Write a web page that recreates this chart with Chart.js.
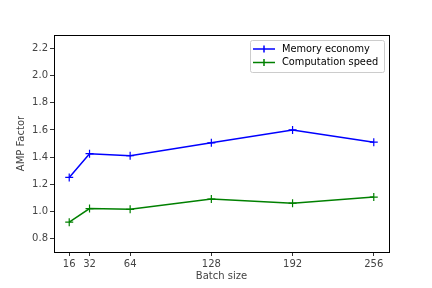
<!DOCTYPE html>
<html>
<head>
<meta charset="utf-8">
<script src="https://cdn.jsdelivr.net/npm/chart.js@4"></script>
<style>
  html, body { margin: 0; padding: 0; background: #fff; }
  #wrap { width: 432px; height: 288px; }
</style>
</head>
<body>
<div id="wrap"><canvas id="myChart" width="432" height="288"></canvas></div>
<script>
// datos
const batchSizes = [16, 32, 64, 128, 192, 256];
const memoryEconomy = [1.25, 1.425, 1.41, 1.505, 1.60, 1.51];
const computationSpeed = [0.92, 1.02, 1.015, 1.09, 1.06, 1.105];
const yTicks = [0.8, 1.0, 1.2, 1.4, 1.6, 1.8, 2.0, 2.2];

const toPoints = (vals) => batchSizes.map((x, i) => ({ x: x, y: vals[i] }));

// caixa + legenda
const frame = {
  id: 'frame',
  afterDraw(chart) {
    const { ctx, chartArea: a } = chart;
    ctx.save();
    ctx.strokeStyle = '#000';
    ctx.lineWidth = 1;
    ctx.strokeRect(a.left + 0.5, a.top + 0.5, a.right - a.left, a.bottom - a.top);

    // legenda
    const x0 = 250, y0 = 40, w = 134, h = 32;
    ctx.fillStyle = 'rgba(255,255,255,0.8)';
    ctx.strokeStyle = '#cccccc';
    ctx.beginPath();
    ctx.roundRect(x0 + 0.5, y0 + 0.5, w, h, 2);
    ctx.fill();
    ctx.stroke();
    ctx.font = '9.8px "DejaVu Sans"';
    ctx.textBaseline = 'middle';
    chart.data.datasets.forEach((ds, i) => {
      const y = y0 + 9 + i * 13.5;
      ctx.strokeStyle = ds.borderColor;
      ctx.lineWidth = 1.5;
      ctx.beginPath();
      ctx.moveTo(x0 + 3, y);
      ctx.lineTo(x0 + 25, y);
      ctx.moveTo(x0 + 14, y - 3.5);
      ctx.lineTo(x0 + 14, y + 3.5);
      ctx.stroke();
      ctx.fillStyle = '#000';
      ctx.fillText(ds.label, x0 + 32, y);
    });
    ctx.restore();
  }
};

const ctx = document.getElementById('myChart');

new Chart(ctx, {
  type: 'scatter',
  data: {
    datasets: [{
      label: 'Memory economy',
      data: toPoints(memoryEconomy),
      borderColor: '#0000ff',
      backgroundColor: '#0000ff',
      showLine: true,
      borderWidth: 1.5,
      pointStyle: 'cross',
      pointRadius: 4,
      pointBorderWidth: 1.2
    }, {
      label: 'Computation speed',
      data: toPoints(computationSpeed),
      borderColor: '#008000',
      backgroundColor: '#008000',
      showLine: true,
      borderWidth: 1.5,
      pointStyle: 'cross',
      pointRadius: 4,
      pointBorderWidth: 1.2
    }]
  },
  options: {
    responsive: false,
    animation: false,
    layout: { padding: { top: 35, right: 43, left: 0, bottom: 0 } },
    plugins: {
      legend: { display: false },
      tooltip: { enabled: false }
    },
    scales: {
      x: {
        type: 'linear',
        min: 4,
        max: 268,
        afterBuildTicks: (s) => { s.ticks = batchSizes.map(v => ({ value: v })); },
        afterFit: (s) => { s.height = 36; },
        grid: { display: true, drawOnChartArea: false, tickLength: 4, color: '#333' },
        border: { display: false },
        ticks: { color: '#444', font: { size: 10, family: 'DejaVu Sans' }, padding: 2, maxRotation: 0 },
        title: { display: true, text: 'Batch size', color: '#444', font: { size: 10, family: 'DejaVu Sans' }, padding: { top: 0, bottom: 6 } }
      },
      y: {
        min: 0.7,
        max: 2.3,
        afterBuildTicks: (s) => { s.ticks = yTicks.map(v => ({ value: v })); },
        afterFit: (s) => { s.width = 54; },
        grid: { display: true, drawOnChartArea: false, tickLength: 4, color: '#333' },
        border: { display: false },
        ticks: { color: '#444', font: { size: 10, family: 'DejaVu Sans' }, padding: 2, callback: (v) => v.toFixed(1) },
        title: { display: true, text: 'AMP Factor', color: '#444', font: { size: 10, family: 'DejaVu Sans' }, padding: { top: 15, bottom: 0 } }
      }
    }
  },
  plugins: [frame]
});
</script>
</body>
</html>
